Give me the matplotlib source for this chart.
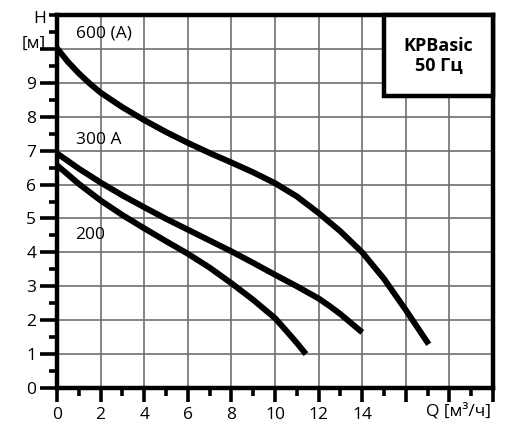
import matplotlib
matplotlib.use("Agg")
import matplotlib.pyplot as plt
from matplotlib.patches import Rectangle
from matplotlib.ticker import MultipleLocator

plt.rcParams['font.family'] = ['Open Sans', 'DejaVu Sans']

# data
q600 = [0, 0.5, 1, 1.5, 2, 3, 4, 5, 6, 7, 8, 9, 10, 11, 12, 13, 14, 15, 16, 17.05]
h600 = [10.02, 9.62, 9.28, 8.98, 8.71, 8.28, 7.9, 7.55, 7.23, 6.93, 6.65, 6.36, 6.04, 5.65, 5.16, 4.62, 4.0, 3.22, 2.3, 1.29]
q300 = [0, 1, 2, 3, 4, 5, 6, 7, 8, 9, 10, 11, 12, 12.5, 13, 14]
h300 = [6.92, 6.47, 6.06, 5.68, 5.33, 4.99, 4.67, 4.35, 4.03, 3.69, 3.34, 3.0, 2.64, 2.42, 2.18, 1.64]
q200 = [0, 1, 2, 3, 4, 5, 6, 7, 8, 9, 10, 10.5, 11, 11.42]
h200 = [6.57, 6.02, 5.53, 5.1, 4.71, 4.33, 3.96, 3.55, 3.09, 2.6, 2.06, 1.7, 1.33, 1.0]
curve_labels = ["600 (A)", "300 A", "200"]
x_ticklabels = ["0", "2", "4", "6", "8", "10", "12", "14"]
y_ticklabels = ["0", "1", "2", "3", "4", "5", "6", "7", "8", "9"]

fig = plt.figure(figsize=(5.12, 4.34), dpi=100)
ax = fig.add_axes([57/512, 1-388/434, (493-57)/512, (388-15)/434])
ax.set_xlim(0, 20)
ax.set_ylim(0, 11)

ax.set_xticks(range(0, 21, 2))
ax.set_xticks(range(1, 20, 2), minor=True)
ax.set_yticks(range(0, 11))
ax.yaxis.set_minor_locator(MultipleLocator(0.5))
ax.set_xticklabels(x_ticklabels + ["", "", ""])
ax.set_yticklabels(y_ticklabels + [""])

for x in range(2, 20, 2):
    ax.axvline(x, color='#707070', lw=1.2, zorder=1)
for y in range(1, 11):
    ax.axhline(y, color='#707070', lw=1.2, zorder=1)

for s in ax.spines.values():
    s.set_linewidth(3.2)
    s.set_color('black')
    s.set_zorder(5)

ax.tick_params(axis='both', which='major', direction='out', width=2.6, length=10,
               labelsize=12.5, color='black', pad=4)
ax.tick_params(axis='both', which='minor', direction='out', width=2.6, length=6, color='black')
ax.tick_params(axis='y', which='major', length=12, pad=3)

kw = dict(color='black', lw=4.3, solid_capstyle='butt', solid_joinstyle='round',
          zorder=4, clip_on=False)
ax.plot(q600, h600, **kw)
ax.plot(q300, h300, **kw)
ax.plot(q200, h200, **kw)

ax.text(0.85, 10.45, curve_labels[0], fontsize=12.5, va='center', ha='left')
ax.text(0.85, 7.3, curve_labels[1], fontsize=12.5, va='center', ha='left')
ax.text(0.85, 4.52, curve_labels[2], fontsize=12.5, va='center', ha='left')

ax.add_patch(Rectangle((15, 8.62), 5, 2.38, facecolor='white', edgecolor='black',
                       lw=3.2, zorder=6, clip_on=False))
ax.text(17.5, 9.8, "KPBasic\n50 Гц", fontsize=13, fontweight='bold', ha='center',
        va='center', zorder=7, linespacing=1.15)

ax.text(-0.5, 10.88, "H", fontsize=12.5, ha='right', va='center')
ax.text(-0.5, 10.15, "[м]", fontsize=12.5, ha='right', va='center')
ax.text(18.4, -0.68, "Q [м³/ч]", fontsize=12.5, ha='center', va='center')

fig.savefig("out.png", dpi=100)
